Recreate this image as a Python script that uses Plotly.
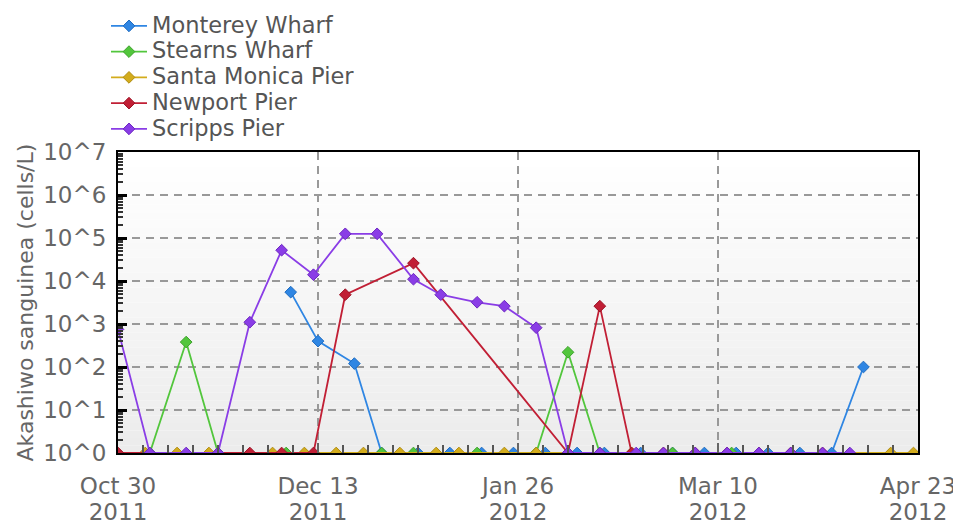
import plotly.graph_objects as go

# ---------------- data ----------------
monterey_dates = ['2011-12-07', '2011-12-13', '2011-12-21', '2011-12-27', '2012-01-04',
                  '2012-01-11', '2012-01-18', '2012-01-25', '2012-02-01', '2012-02-08',
                  '2012-02-14', '2012-02-22', '2012-02-29', '2012-03-07', '2012-03-14',
                  '2012-03-21', '2012-03-28', '2012-04-04', '2012-04-11']
monterey_vals = [5500, 400, 120, 1, 1, 1, 1, 1, 1, 1, 1, 1, 1, 1, 1, 1, 1, 1, 100]

stearns_dates = ['2011-11-06', '2011-11-14', '2011-11-21', '2011-12-06', '2011-12-27',
                 '2012-01-03', '2012-01-17', '2012-01-30', '2012-02-06', '2012-02-13',
                 '2012-02-29', '2012-03-13']
stearns_vals = [1, 380, 1, 1, 1, 1, 1, 1, 220, 1, 1, 1]

santamonica_dates = ['2011-11-05', '2011-11-12', '2011-11-19', '2011-12-03', '2011-12-10',
                     '2011-12-17', '2011-12-23', '2011-12-31', '2012-01-08', '2012-01-13',
                     '2012-01-23', '2012-01-30', '2012-02-20', '2012-04-17', '2012-04-22']
santamonica_vals = [1] * len(santamonica_dates)

newport_dates = ['2011-10-30', '2011-11-28', '2011-12-05', '2011-12-12', '2011-12-19',
                 '2012-01-03', '2012-02-06', '2012-02-13', '2012-02-20', '2012-02-27',
                 '2012-03-05', '2012-03-12', '2012-03-19', '2012-03-26', '2012-04-02']
newport_vals = [1, 1, 1, 1, 4800, 26000, 1, 2600, 1, 1, 1, 1, 1, 1, 1]

scripps_dates = ['2011-10-30', '2011-11-06', '2011-11-14', '2011-11-21', '2011-11-28',
                 '2011-12-05', '2011-12-12', '2011-12-19', '2011-12-26', '2012-01-03',
                 '2012-01-09', '2012-01-17', '2012-01-23', '2012-01-30', '2012-02-06',
                 '2012-02-13', '2012-02-21', '2012-02-27', '2012-03-05', '2012-03-12',
                 '2012-03-19', '2012-03-26', '2012-04-02', '2012-04-08']
scripps_vals = [750, 1, 1, 1, 1100, 52000, 14000, 125000, 125000, 11000,
                4800, 3200, 2600, 820, 1, 1, 1, 1, 1, 1, 1, 1, 1, 1]

series_names = ['Monterey Wharf', 'Stearns Wharf', 'Santa Monica Pier', 'Newport Pier', 'Scripps Pier']
series_colors = ['#2f86e3', '#52c63c', '#d3ac1c', '#c11f35', '#8a3de6']
series_edge = ['#1f6cc0', '#3ea22c', '#b08c10', '#9c1326', '#6d27c2']

x_tick_vals = ['2011-10-30', '2011-12-13', '2012-01-26', '2012-03-10', '2012-04-23']
x_tick_days = ['Oct 30', 'Dec 13', 'Jan 26', 'Mar 10', 'Apr 23']
x_tick_years = ['2011', '2011', '2012', '2012', '2012']
y_tick_vals = [1, 10, 100, 1000, 10000, 100000, 1000000, 10000000]
y_tick_text = ['10^0', '10^1', '10^2', '10^3', '10^4', '10^5', '10^6', '10^7']
y_title = 'Akashiwo sanguinea (cells/L)'

all_dates = [monterey_dates, stearns_dates, santamonica_dates, newport_dates, scripps_dates]
all_vals = [monterey_vals, stearns_vals, santamonica_vals, newport_vals, scripps_vals]

# ---------------- figure ----------------
W, H = 961, 525
L, R, T, B = 110, 51, 144, 80   # page has an 8px body margin

fig = go.Figure()
for name, d, v, c, e in zip(series_names, all_dates, all_vals, series_colors, series_edge):
    fig.add_trace(go.Scatter(
        x=d, y=v, mode='lines+markers',
        name='<span style="font-size:22.5px">' + name + '</span>',
        line=dict(color=c, width=1.8),
        marker=dict(symbol='diamond', size=9, color=c, line=dict(color=e, width=1)),
        cliponaxis=True,
    ))

# gradient plot background
n_bands = 40
for i in range(n_bands):
    t = i / (n_bands - 1)
    g = int(round(255 - (255 - 236) * (1 - t)))
    fig.add_shape(type='rect', xref='x domain', yref='y domain',
                  x0=0, x1=1, y0=i / n_bands, y1=(i + 1) / n_bands,
                  fillcolor=f'rgb({g},{g},{g})', line=dict(width=0), layer='below')

minor_y = [m * 10 ** k for k in range(7) for m in range(2, 10)]
plot_w = W - L - R

fig.add_annotation(
    text=y_title, textangle=-90, xref='paper', yref='paper',
    x=(17 - L) / plot_w, y=0.5, xanchor='center', yanchor='middle', showarrow=False,
    font=dict(size=22, color='#666666'),
)

span = '<span style="font-size:23px">{}</span>'
x_tick_text = [span.format(dd) + '<br>' + span.format(yy) for dd, yy in zip(x_tick_days, x_tick_years)]

fig.update_layout(
    width=W, height=H,
    margin=dict(l=L, r=R, t=T, b=B, autoexpand=False),
    paper_bgcolor='white', plot_bgcolor='rgba(0,0,0,0)',
    font=dict(family='DejaVu Sans, Verdana, sans-serif', size=23, color='#666666'),
    showlegend=True,
    legend=dict(xref='container', yref='container', x=98 / W, y=1 + 5 / H,
                xanchor='left', yanchor='top', bgcolor='rgba(0,0,0,0)',
                font=dict(size=17.5, color='#555555'), tracegroupgap=0,
                itemwidth=36),
)

fig.update_xaxes(
    type='date', range=['2011-10-30', '2012-04-23'],
    tickmode='array', tickvals=x_tick_vals, ticktext=x_tick_text,
    tickfont=dict(size=20.5, color='#666666'),
    ticks='inside', ticklen=10, tickcolor='#666666', tickwidth=2,
    showgrid=True, gridcolor='#999999', gridwidth=1.5, griddash='8px,6px',
    showline=True, linecolor='black', linewidth=2, mirror=True,
    ticklabelstandoff=14,
    minor=dict(dtick=5.5 * 86400000, tick0='2011-10-30', ticks='inside', ticklen=8,
               tickcolor='#555555', tickwidth=1.5, showgrid=False),
    zeroline=False,
)
fig.update_yaxes(
    type='log', range=[0, 7],
    tickmode='array', tickvals=y_tick_vals, ticktext=y_tick_text,
    ticks='inside', ticklen=9, tickcolor='black', tickwidth=3,
    showgrid=True, gridcolor='#999999', gridwidth=1.5, griddash='8px,6px',
    showline=True, linecolor='black', linewidth=2, mirror=True,
    ticklabelstandoff=5,
    minor=dict(tickmode='array', tickvals=minor_y, ticks='inside', ticklen=5,
               tickcolor='#333333', tickwidth=1.5, showgrid=False),
    zeroline=False,
)

fig.write_html('out.html')
